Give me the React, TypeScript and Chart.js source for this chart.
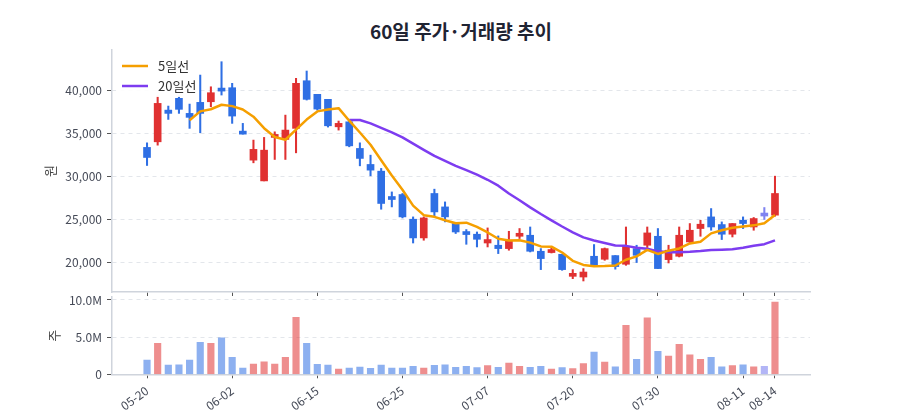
import { useEffect, useRef } from "react";
import { Chart, registerables } from "chart.js";

Chart.register(...registerables);

// 60 trading days
const dates = [
  "05-20", "05-21", "05-22", "05-23", "05-26", "05-27", "05-28", "05-29", "06-02",
  "06-04", "06-05", "06-09", "06-10", "06-11", "06-12", "06-13", "06-15",
  "06-16", "06-17", "06-18", "06-19", "06-20", "06-23", "06-24", "06-25",
  "06-26", "06-27", "06-30", "07-01", "07-02", "07-03", "07-04", "07-07",
  "07-08", "07-09", "07-10", "07-11", "07-14", "07-15", "07-16", "07-20",
  "07-21", "07-22", "07-23", "07-24", "07-25", "07-28", "07-29", "07-30",
  "07-31", "08-01", "08-04", "08-05", "08-06", "08-07", "08-08", "08-11",
  "08-12", "08-13", "08-14",
];
const tickLabels = ["05-20", "06-02", "06-15", "06-25", "07-07", "07-20", "07-30", "08-11", "08-14"];

const opens = [
  33340, 33990, 37670, 39040, 37290, 38570, 38640, 40080, 40270, 35230,
  31860, 29450, 34500, 34270, 35550, 41080, 39500, 38920, 35730, 36310,
  33220, 31360, 30580, 27590, 27870, 25000, 22830, 27990, 26430, 24500,
  23340, 23260, 22240, 21980, 21590, 23020, 23140, 21280, 21130, 20930,
  18370, 18290, 20700, 20350, 20780, 19770, 21590, 21980, 23020, 20310,
  20700, 22360, 23920, 25270, 24380, 23260, 24880, 24100, 25370, 25470,
];
const highs = [
  33870, 39300, 38140, 39300, 38370, 41740, 40380, 43290, 40780, 36130,
  34190, 34500, 35150, 37090, 41360, 42210, 39500, 38920, 36400, 36400,
  33870, 32440, 30900, 28170, 27990, 25270, 25270, 28490, 27010, 24500,
  23800, 23520, 23990, 23060, 23600, 23920, 24100, 21590, 21780, 20930,
  19150, 19270, 22060, 21660, 20780, 24100, 21980, 24100, 23920, 21980,
  24100, 24500, 24880, 26240, 24690, 24500, 25270, 25200, 26360, 30000,
];
const lows = [
  31240, 33600, 36590, 37290, 35550, 35040, 38060, 39420, 36130, 34880,
  31550, 29450, 31940, 31940, 32710, 38840, 37670, 35700, 35350, 33410,
  31200, 30040, 26160, 26430, 25150, 22240, 22560, 25270, 24690, 23340,
  22090, 21780, 21780, 21010, 21400, 22760, 21200, 19150, 21080, 19070,
  18100, 17830, 19530, 20230, 19200, 19650, 19970, 21710, 19270, 19920,
  20620, 22170, 23020, 23720, 22640, 22940, 23920, 23720, 24970, 25350,
];
const closes = [
  32170, 38450, 37290, 37760, 36830, 37290, 39690, 39880, 36980, 34880,
  33110, 33020, 34770, 35350, 40780, 38920, 37790, 35850, 36130, 33520,
  32060, 30700, 26830, 27290, 25270, 22830, 25150, 25850, 25270, 23520,
  23220, 22670, 22640, 21590, 22560, 23340, 21280, 20430, 21480, 19150,
  18520, 18870, 19650, 21590, 19500, 21860, 20810, 23410, 19270, 21400,
  23140, 23720, 24420, 24100, 23260, 24500, 24500, 25080, 25370, 27990,
];
const volumes = [
  1920000, 4170000, 1250000, 1290000, 1920000, 4300000, 4170000, 4920000, 2280000, 850000,
  1380000, 1690000, 1380000, 2280000, 7660000, 4170000, 1340000, 1250000, 710000, 850000,
  980000, 800000, 1250000, 850000, 850000, 1070000, 850000, 1200000, 1290000, 940000,
  1070000, 890000, 1160000, 940000, 1520000, 1070000, 940000, 1070000, 710000, 890000,
  760000, 1430000, 3000000, 1650000, 1020000, 6590000, 2000000, 7600000, 3090000, 2460000,
  4030000, 2630000, 2000000, 2280000, 1020000, 1160000, 1290000, 1020000, 1070000, 9720000,
];
const priceTicks = [20000, 25000, 30000, 35000, 40000];
const volumeTicks = [0, 5000000, 10000000];

const FONT = "'Noto Sans CJK KR', 'Noto Sans', sans-serif";
const TICK_COLOR = "#454a57";
const AXIS_COLOR = "#cfd4dc";
const GRID_COLOR = "#e3e6eb";

const candleColor = (i: number) =>
  closes[i] > opens[i] ? "#e03131" : closes[i] < opens[i] ? "#2f6fe4" : "#7f83f0";
const volumeColor = (i: number) =>
  closes[i] > opens[i]
    ? "rgba(224, 49, 49, 0.55)"
    : closes[i] < opens[i]
    ? "rgba(47, 111, 228, 0.55)"
    : "rgba(127, 131, 240, 0.6)";

const movingAvg = (n: number) =>
  closes
    .map((_, i) =>
      i < n - 1
        ? null
        : { x: i, y: closes.slice(i - n + 1, i + 1).reduce((a, b) => a + b, 0) / n }
    )
    .filter(Boolean);

const tickIdx = tickLabels.map((l) => dates.indexOf(l));
const xMin = -3.29;
const xMax = dates.length - 1 + 3.29;

const maLegend = {
  id: "maLegend",
  afterDraw(chart: any) {
    const { ctx, chartArea } = chart;
    const lines = chart.data.datasets.filter((d: any) => d.type === "line");
    const x0 = chartArea.left + 10;
    const y0 = chartArea.top + 16;
    ctx.save();
    ctx.fillStyle = "rgba(255,255,255,0.9)";
    ctx.fillRect(chartArea.left + 4, chartArea.top + 3, 82, 44);
    lines.forEach((d: any, k: number) => {
      const y = y0 + k * 20;
      ctx.strokeStyle = d.borderColor;
      ctx.lineWidth = 2.5;
      ctx.beginPath();
      ctx.moveTo(x0, y);
      ctx.lineTo(x0 + 26, y);
      ctx.stroke();
      ctx.fillStyle = "#333";
      ctx.font = `13px ${FONT}`;
      ctx.textBaseline = "middle";
      ctx.fillText(d.label, x0 + 36, y);
    });
    ctx.restore();
  },
};

const App = () => {
  const priceRef = useRef<HTMLCanvasElement | null>(null);
  const volRef = useRef<HTMLCanvasElement | null>(null);

  useEffect(() => {
    if (!priceRef.current || !volRef.current) return;
    Chart.defaults.font.family = FONT;

    const idx = dates.map((_, i) => i);

    const sharedX = {
      type: "linear" as const,
      min: xMin,
      max: xMax,
      offset: false,
      afterBuildTicks: (s: any) => {
        s.ticks = tickIdx.map((v) => ({ value: v }));
      },
      grid: { offset: false, drawOnChartArea: false, tickLength: 4, tickColor: "#555", tickWidth: 1 },
      border: { color: AXIS_COLOR, width: 1.5 },
    };

    const priceChart = new Chart(priceRef.current, {
      type: "bar",
      data: {
        datasets: [
          {
            type: "line",
            label: "5일선",
            data: movingAvg(5) as any,
            borderColor: "#f59f00",
            borderWidth: 2.5,
            pointRadius: 0,
            tension: 0,
            borderJoinStyle: "round",
          },
          {
            type: "line",
            label: "20일선",
            data: movingAvg(20) as any,
            borderColor: "#7d3cf0",
            borderWidth: 2.5,
            pointRadius: 0,
            tension: 0,
            borderJoinStyle: "round",
          },
          {
            type: "bar",
            label: "body",
            data: idx.map((i) => ({ x: i, y: [opens[i], closes[i]] })) as any,
            backgroundColor: idx.map(candleColor),
            grouped: false,
            barPercentage: 1,
            categoryPercentage: 1,
            maxBarThickness: 7,
            minBarLength: 3,
          },
          {
            type: "bar",
            label: "wick",
            data: idx.map((i) => ({ x: i, y: [lows[i], highs[i]] })) as any,
            backgroundColor: idx.map(candleColor),
            grouped: false,
            barPercentage: 1,
            categoryPercentage: 1,
            maxBarThickness: 1.4,
          },
        ],
      },
      options: {
        responsive: true,
        maintainAspectRatio: false,
        animation: false,
        layout: { padding: { left: 38, right: 90, top: 50, bottom: 10 } },
        plugins: { legend: { display: false }, tooltip: { enabled: false } },
        scales: {
          x: {
            ...sharedX,
            afterFit: (s: any) => {
              s.height = 8;
            },
            ticks: { display: false, autoSkip: false },
          },
          y: {
            min: 16550,
            max: 44650,
            afterBuildTicks: (s: any) => {
              s.ticks = priceTicks.map((v) => ({ value: v }));
            },
            afterFit: (s: any) => {
              s.width = 74;
            },
            ticks: {
              color: TICK_COLOR,
              font: { size: 12 },
              padding: 5,
              callback: (v: any) => Number(v).toLocaleString("en-US"),
            },
            grid: { color: GRID_COLOR, tickLength: 5, tickColor: "#555", tickWidth: 1 },
            border: { color: AXIS_COLOR, width: 1.5, dash: [4, 4] },
            title: { display: true, text: "원", color: "#444", font: { size: 13 } },
          },
        },
      },
      plugins: [maLegend],
    } as any);

    const volChart = new Chart(volRef.current, {
      type: "bar",
      data: {
        datasets: [
          {
            label: "거래량",
            data: idx.map((i) => ({ x: i, y: volumes[i] })) as any,
            backgroundColor: idx.map(volumeColor),
            grouped: false,
            barPercentage: 1,
            categoryPercentage: 1,
            maxBarThickness: 6.5,
          },
        ],
      },
      options: {
        responsive: true,
        maintainAspectRatio: false,
        animation: false,
        layout: { padding: { left: 42, right: 90, top: 15, bottom: 0 } },
        plugins: { legend: { display: false }, tooltip: { enabled: false } },
        scales: {
          x: {
            ...sharedX,
            afterFit: (s: any) => {
              s.height = 45.7;
            },
            ticks: {
              autoSkip: false,
              minRotation: 36,
              maxRotation: 36,
              padding: 5,
              color: TICK_COLOR,
              font: { size: 12 },
              callback: (v: any) => dates[Number(v)],
            },
          },
          y: {
            min: 0,
            max: 10400000,
            afterBuildTicks: (s: any) => {
              s.ticks = volumeTicks.map((v) => ({ value: v }));
            },
            afterFit: (s: any) => {
              s.width = 70;
            },
            ticks: {
              color: TICK_COLOR,
              font: { size: 12 },
              padding: 5,
              callback: (v: any) => (Number(v) === 0 ? "0" : (Number(v) / 1e6).toFixed(1) + "M"),
            },
            grid: { color: GRID_COLOR, tickLength: 5, tickColor: "#555", tickWidth: 1 },
            border: { color: AXIS_COLOR, width: 1.5, dash: [4, 4] },
            title: { display: true, text: "주", color: "#444", font: { size: 13 } },
          },
        },
      },
    } as any);

    return () => {
      priceChart.destroy();
      volChart.destroy();
    };
  }, []);

  return (
    <div style={{ position: "absolute", left: 0, top: 0, width: 900, height: 420, background: "#fff" }}>
      <div
        style={{
          position: "absolute",
          left: 112,
          top: 18,
          width: 698,
          textAlign: "center",
          fontFamily: FONT,
          fontWeight: 700,
          fontSize: 19,
          lineHeight: "26px",
          color: "#1f2433",
        }}
      >
        60일 주가·거래량 추이
      </div>
      <div style={{ position: "absolute", left: 0, top: 0, width: 900, height: 310 }}>
        <canvas ref={priceRef}></canvas>
      </div>
      <div style={{ position: "absolute", left: 0, top: 282, width: 900, height: 138 }}>
        <canvas ref={volRef}></canvas>
      </div>
    </div>
  );
};

export default App;
